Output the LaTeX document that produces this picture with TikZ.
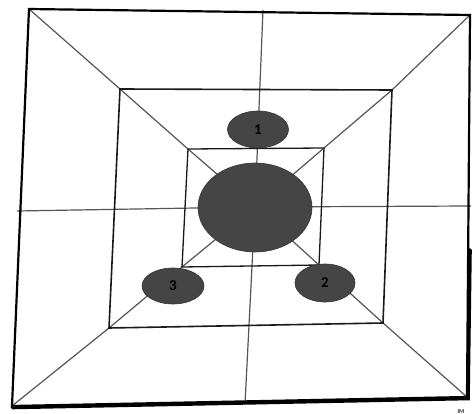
\documentclass[tikz,border=0pt]{standalone}
\usepackage{fontspec}
\setsansfont{Carlito}
\usetikzlibrary{shapes.geometric}
\definecolor{blob}{HTML}{454545}
\definecolor{thin}{HTML}{555555}
\tikzset{
  blobnode/.style={ellipse, fill=blob, draw=black!80, line width=0.6pt, inner sep=0pt, font=\sffamily\fontsize{15}{15}\selectfont\bfseries, text=black},
  outerframe/.style={draw=black, line width=2.2pt, line join=miter},
  midframe/.style={draw=black!90, line width=1.6pt},
  innerframe/.style={draw=black!90, line width=1.3pt},
  ray/.style={draw=thin, line width=1.2pt}
}
\begin{document}
\begin{tikzpicture}[x=1pt,y=-1pt]
\useasboundingbox[fill=white] (0,0) rectangle (474,414);
% outer corners
\coordinate (o1) at (29,9);
\coordinate (o2) at (470,15);
\coordinate (o3) at (467,397);
\coordinate (o4) at (12,406);
% middle corners
\coordinate (m1) at (120,89);
\coordinate (m2) at (392,90);
\coordinate (m3) at (383,323);
\coordinate (m4) at (109,328);
% inner corners
\coordinate (i1) at (188,149);
\coordinate (i2) at (324,148);
\coordinate (i3) at (319,265);
\coordinate (i4) at (182,267);
\coordinate (c) at (255,207);
% cross line ends
\coordinate (vt) at (263,10);
\coordinate (vb) at (245,404);
\coordinate (hl) at (17,211);
\coordinate (hr) at (471,206);
% rays and cross
\draw[ray] (o1) -- (m1) -- (i1) -- (c);
\draw[ray] (o2) -- (m2) -- (i2) -- (c);
\draw[ray] (o3) -- (m3) -- (i3) -- (c);
\draw[ray] (o4) -- (m4) -- (i4) -- (c);
\draw[ray] (vt) -- (c) -- (vb);
\draw[ray] (hl) -- (c) -- (hr);
% frames
\draw[innerframe] (i1) -- (i2) -- (i3) -- (i4) -- cycle;
\draw[midframe] (m1) -- (m2) -- (m3) -- (m4) -- cycle;
\draw[outerframe] (o1) -- (o2) -- (o3) -- (o4) -- cycle;
% shadow on bottom and lower right edge
\draw[draw=black, line width=3.6pt, line cap=round] (12.5,407.5) -- (468,398.5) -- (470,250);
% blobs
\node[blobnode, minimum width=114pt, minimum height=89pt] (centre) at (255,207.5) {};
\node[blobnode, minimum width=61pt, minimum height=37pt] (b1) at (258,129.5) {1};
\node[blobnode, minimum width=60pt, minimum height=38pt] (b2) at (325,283) {2};
\node[blobnode, minimum width=62pt, minimum height=36pt] (b3) at (173,286) {3};
\node[font=\sffamily\fontsize{6}{6}\selectfont\bfseries, text=black!80, anchor=south, inner sep=0pt] (tm) at (461,413.5) {IM};
\end{tikzpicture}
\end{document}
